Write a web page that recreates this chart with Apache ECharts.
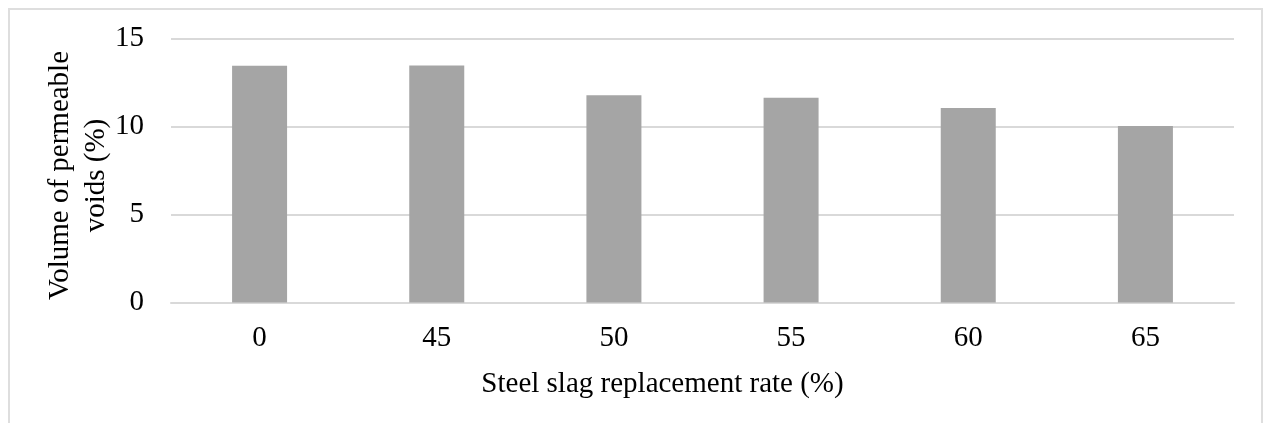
<!DOCTYPE html>
<html>
<head>
<meta charset="utf-8">
<script src="https://cdn.jsdelivr.net/npm/echarts@6/dist/echarts.min.js"></script>
<style>
html,body{margin:0;padding:0;background:#fff;}
#chart{width:1263px;height:423px;}
</style>
</head>
<body>
<div id="chart"></div>
<script>
var categories = ['0', '45', '50', '55', '60', '65'];
var voidValues = [13.45, 13.47, 11.77, 11.64, 11.05, 10.03];
var yTicks = [0, 5, 10, 15];
var xTitle = 'Steel slag replacement rate (%)';
var yTitle = 'Volume of permeable\nvoids (%)';

var FONT = '"Liberation Serif", "Times New Roman", serif';
var chart = echarts.init(document.getElementById('chart'), null, {renderer: 'canvas'});
chart.setOption({
  animation: false,
  backgroundColor: '#ffffff',
  graphic: [{
    type: 'rect',
    silent: true,
    shape: {x: 9, y: 9, width: 1253, height: 430},
    style: {fill: 'none', stroke: '#dedede', lineWidth: 2}
  }],
  grid: {left: 171, right: 29, top: 38.5, bottom: 120.5, containLabel: false},
  xAxis: {
    type: 'category',
    data: categories,
    name: xTitle,
    nameLocation: 'middle',
    nameGap: 67,
    nameMoveOverlap: false,
    nameTextStyle: {fontFamily: FONT, fontSize: 29, color: '#000', padding: [0, 80, 0, 0]},
    axisLine: {show: true, lineStyle: {color: '#d9d9d9', width: 2}},
    axisTick: {show: false},
    axisLabel: {fontFamily: FONT, fontSize: 29, color: '#000', margin: 21}
  },
  yAxis: {
    type: 'value',
    min: yTicks[0],
    max: yTicks[yTicks.length - 1],
    interval: 5,
    name: yTitle,
    nameLocation: 'middle',
    nameRotate: 90,
    nameGap: 57,
    nameMoveOverlap: false,
    nameTextStyle: {fontFamily: FONT, fontSize: 29, color: '#000', lineHeight: 36, align: 'center', padding: [0, 10, 0, 0]},
    axisLine: {show: false},
    axisTick: {show: false},
    axisLabel: {fontFamily: FONT, fontSize: 29, color: '#000', margin: 27},
    splitLine: {lineStyle: {color: '#d9d9d9', width: 2}}
  },
  series: [{
    type: 'bar',
    data: voidValues,
    barWidth: 55,
    itemStyle: {color: '#a5a5a5'}
  }]
});
</script>
</body>
</html>
